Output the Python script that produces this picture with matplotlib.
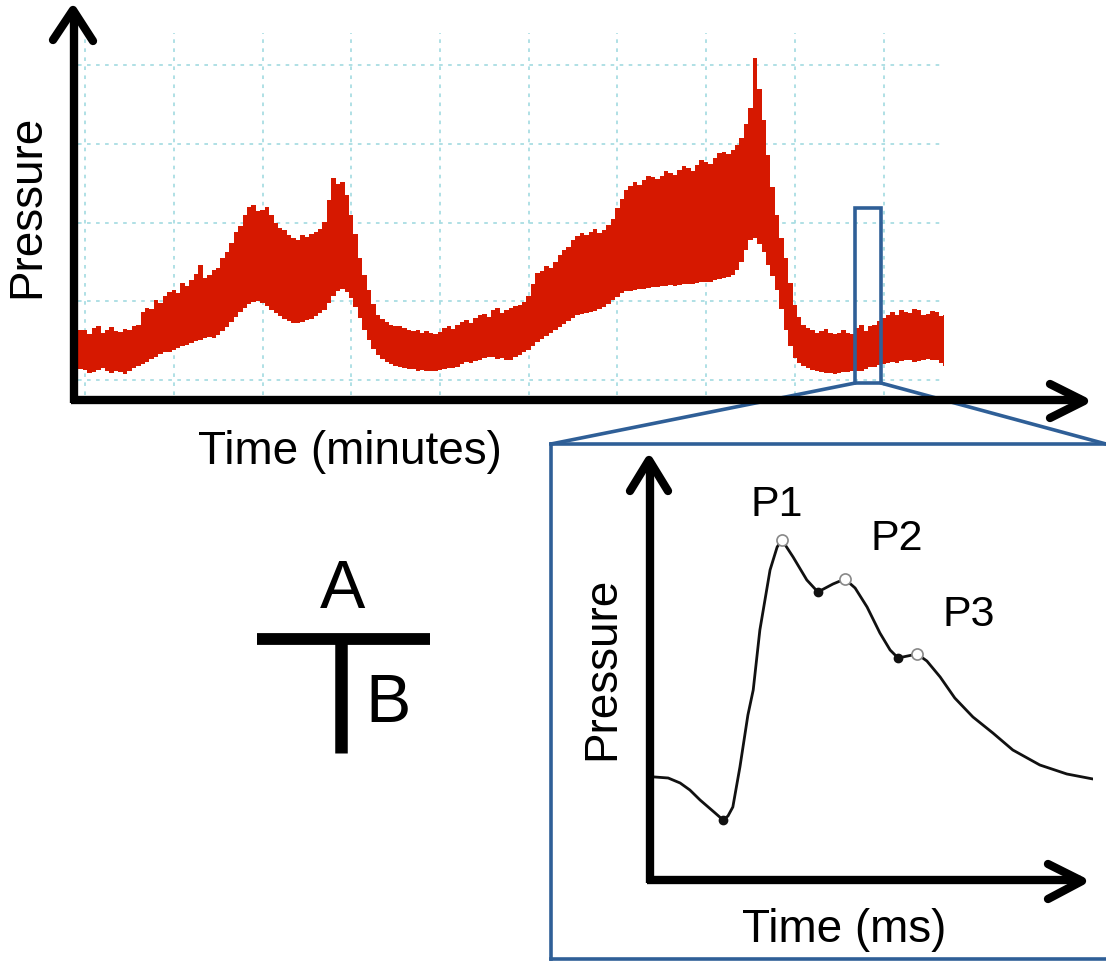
import numpy as np
import matplotlib
matplotlib.use('Agg')
import matplotlib.pyplot as plt
from matplotlib.patches import Rectangle, ConnectionPatch

plt.rcParams['font.family'] = ['Liberation Sans', 'DejaVu Sans']

# long recording: upper / lower edge of the pressure trace, sampled every half minute from -1 min
upper = [6.0, 6.4, 6.3, 5.9, 6.6, 6.9, 6.0, 6.3, 6.7, 6.2, 6.1, 6.5, 6.3, 6.8, 7.0, 8.6, 9.1, 9.0, 10.2, 9.8,
         10.7, 11.2, 11.4, 11.0, 12.3, 11.9, 12.7, 13.4, 14.6, 13.0, 13.3, 14.0, 14.2, 15.5, 16.3, 17.4, 18.8, 19.6, 21.0, 22.0,
         22.2, 21.5, 21.6, 22.0, 21.0, 20.0, 19.3, 19.0, 18.4, 18.0, 17.8, 18.4, 18.1, 18.6, 18.8, 19.2, 20.1, 22.8, 25.7, 24.9,
         25.1, 23.5, 21.0, 18.5, 15.5, 13.3, 11.4, 9.6, 8.3, 7.7, 7.4, 7.0, 6.9, 6.8, 6.6, 6.3, 6.2, 6.4, 6.0, 6.2,
         6.0, 5.8, 6.1, 6.6, 6.9, 6.5, 7.0, 7.4, 7.6, 7.3, 7.9, 8.2, 8.4, 8.0, 8.9, 9.1, 8.5, 8.9, 9.1, 9.4,
         9.5, 9.9, 10.7, 12.2, 13.6, 13.9, 14.5, 14.2, 15.0, 15.9, 16.5, 16.9, 17.8, 18.3, 18.7, 18.4, 18.8, 19.2, 18.7, 19.1,
         19.7, 20.5, 21.8, 23.0, 24.1, 24.6, 25.1, 24.8, 25.4, 25.9, 25.8, 25.5, 25.9, 26.5, 26.3, 26.0, 26.7, 27.2, 26.9, 26.6,
         27.3, 27.9, 27.7, 27.4, 28.2, 28.8, 29.0, 28.7, 29.2, 29.8, 30.7, 32.5, 34.5, 40.9, 37.0, 33.0, 28.6, 24.5, 21.0, 18.0,
         15.5, 12.3, 9.5, 8.0, 7.0, 6.6, 6.3, 6.0, 6.2, 6.5, 6.0, 5.8, 6.0, 6.3, 6.0, 5.9, 6.6, 7.0, 6.2, 6.8,
         7.0, 7.5, 7.9, 8.3, 8.6, 8.3, 8.9, 8.6, 8.5, 9.0, 8.9, 8.2, 8.4, 8.8, 8.6, 8.1, 8.3]
lower = [1.1, 1.4, 1.3, 0.9, 1.0, 1.3, 1.5, 1.1, 0.9, 1.2, 1.0, 0.8, 1.1, 1.5, 1.8, 2.0, 2.3, 2.7, 2.9, 3.3,
         3.6, 3.5, 3.8, 4.1, 4.3, 4.4, 4.7, 4.9, 5.1, 5.3, 5.5, 5.4, 5.7, 6.2, 6.7, 7.4, 8.0, 8.6, 9.1, 9.6,
         9.9, 10.0, 9.8, 9.4, 8.9, 8.5, 8.1, 7.7, 7.5, 7.2, 7.2, 7.4, 7.6, 7.8, 8.1, 8.5, 8.9, 9.8, 10.7, 11.3,
         11.6, 11.2, 10.4, 9.3, 7.9, 6.4, 5.1, 4.0, 3.2, 2.7, 2.3, 2.0, 1.8, 1.6, 1.5, 1.4, 1.4, 1.2, 1.3, 1.1,
         1.1, 1.2, 1.3, 1.4, 1.5, 1.5, 1.7, 2.0, 2.3, 2.2, 2.4, 2.6, 2.8, 2.9, 2.9, 2.7, 2.8, 2.6, 2.5, 2.9,
         3.2, 3.5, 3.8, 4.3, 4.8, 5.2, 5.6, 6.0, 6.3, 6.7, 7.1, 7.5, 7.9, 8.2, 8.4, 8.5, 8.6, 8.8, 9.0, 9.3,
         9.7, 10.1, 10.5, 11.0, 11.3, 11.3, 11.4, 11.5, 11.6, 11.7, 11.8, 11.8, 11.9, 12.0, 12.1, 12.0, 12.1, 12.2, 12.2, 12.2,
         12.3, 12.4, 12.4, 12.5, 12.7, 12.8, 13.0, 13.1, 13.3, 14.0, 15.0, 16.5, 17.8, 18.0, 17.3, 16.3, 14.6, 13.2, 11.4, 9.0,
         6.3, 4.3, 2.8, 2.2, 1.8, 1.5, 1.3, 1.1, 1.0, 0.9, 0.9, 0.8, 0.9, 1.0, 1.0, 1.1, 1.1, 1.2, 1.4, 1.6,
         1.7, 1.9, 2.0, 2.2, 2.3, 2.2, 2.4, 2.6, 2.5, 2.3, 2.4, 2.6, 2.7, 2.5, 2.5, 2.1, 1.8]
minutes = -1 + 0.5 * np.arange(len(upper))

# one pulse taken from the recording
pulse_ms = [1.1, 4.1, 6.8, 9.0, 11.3, 14.7, 16.5, 17.6, 18.7, 20.3, 22.1, 23.3, 24.8, 27.1, 28.7, 29.8,
            32.3, 35.4, 37.9, 41.3, 44.0, 46.3, 49.0, 51.9, 54.2, 56.0, 60.3, 62.5, 65.5,
            68.8, 71.6, 72.9, 77.4, 81.9, 88.0, 94.1, 100.0]
pulse_p = [5.15, 5.1, 4.85, 4.5, 4.0, 3.35, 3.0, 3.2, 3.65, 5.65, 8.25, 9.5, 12.5, 15.5, 16.65, 17.0,
           16.15, 15.0, 14.4, 14.8, 15.05, 14.6, 13.65, 12.35, 11.5, 11.1, 11.3, 10.95,
           10.15, 9.1, 8.45, 8.15, 7.35, 6.5, 5.75, 5.3, 5.05]
peak_names = ['P1', 'P2', 'P3']
peak_ms = [29.8, 44.0, 60.3]
peak_p = [17.0, 15.05, 11.3]
notch_ms = [16.5, 37.9, 56.0]
notch_p = [3.0, 14.4, 11.1]

W, H = 1106, 961
fig = plt.figure(figsize=(W / 100, H / 100), dpi=100)

def box(x0, y0, x1, y1):
    # pixel box (top-left origin) -> figure fraction
    return [x0 / W, 1 - y1 / H, (x1 - x0) / W, (y1 - y0) / H]

# top panel
ax = fig.add_axes(box(78, 33, 943, 395))
ax.fill_between(minutes, lower, upper, step='mid', color='#d61800', lw=0)
ax.set_xlim(-0.8, 96.7)
ax.set_ylim(-1.9, 44.06)
ax.set_xticks(np.arange(0, 100, 10))
ax.set_yticks(np.arange(0, 50, 10))
ax.grid(True, color='#a9dde3', linestyle=(0, (2, 3)), linewidth=1.3)
ax.set_axisbelow(True)
ax.tick_params(length=0, labelbottom=False, labelleft=False)
for s in ax.spines.values():
    s.set_visible(False)

zoom_t0, zoom_t1 = 86.8, 89.7
zoom_p0, zoom_p1 = -0.38, 21.8
ax.add_patch(Rectangle((zoom_t0, zoom_p0), zoom_t1 - zoom_t0, zoom_p1 - zoom_p0,
                       fill=False, ec='#2f5f97', lw=2.6, clip_on=False, zorder=5))

# inset: single pulse
ax2 = fig.add_axes(box(650, 460, 1093, 880))
ax2.plot(pulse_ms, pulse_p, color='#111111', lw=2.0, solid_joinstyle='round')
ax2.plot(notch_ms, notch_p, 'o', ms=6, color='#111111')
ax2.plot(peak_ms, peak_p, 'o', ms=8, mfc='white', mec='#888888', mew=1.2)
label_off = [(-4, 25), (37, 29), (37, 28)]
for name, t, p, off in zip(peak_names, peak_ms, peak_p, label_off):
    ax2.annotate(name, (t, p), xytext=off, textcoords='offset points',
                 ha='center', va='center', fontsize=31)
ax2.set_xlim(0, 100)
ax2.set_ylim(0, 21)
ax2.axis('off')

# overlay in pixel units for arrows, box and labels
ov = fig.add_axes([0, 0, 1, 1], zorder=10)
ov.set_xlim(0, W)
ov.set_ylim(H, 0)
ov.axis('off')
ov.patch.set_alpha(0)

blue = '#2f5f97'
shaft = dict(color='black', lw=6, solid_capstyle='butt')
head = dict(color='black', lw=6, solid_capstyle='round', solid_joinstyle='round')
# top axes
ov.plot([74, 74], [403, 12], **shaft)
ov.plot([53, 73, 93], [40, 10, 41], **head)
ov.plot([71, 1082], [400, 400], **shaft)
ov.plot([1050, 1084, 1050], [384, 401, 418], **head)
# inset axes
ov.plot([650, 650], [883, 462], **shaft)
ov.plot([630, 649, 668], [491, 460, 491], **head)
ov.plot([647, 1081], [880, 880], **shaft)
ov.plot([1048, 1082, 1048], [864, 881, 899], **head)

# inset frame and zoom lines
ov.plot([551, 1110], [444, 444], color=blue, lw=2.6)
ov.plot([551, 551], [444, 959], color=blue, lw=2.6)
ov.plot([551, 1110], [959, 959], color=blue, lw=2.6)
for t, xb in [(zoom_t0, 551), (zoom_t1, 1106)]:
    ov.add_artist(ConnectionPatch((t, zoom_p0), (xb, 444), coordsA=ax.transData,
                                  coordsB=ov.transData, color=blue, lw=2.6))

# T symbol with A / B
ov.plot([257, 430], [639, 639], color='black', lw=8.5, solid_capstyle='butt')
ov.plot([341, 341], [639, 753], color='black', lw=9, solid_capstyle='butt')
ov.text(343, 590, 'A', fontsize=49, ha='center', va='center')
ov.text(388, 704, 'B', fontsize=49, ha='center', va='center')

ov.text(27, 206, 'Pressure', fontsize=33, rotation=90, ha='center', va='center')
ov.text(350, 452, 'Time (minutes)', fontsize=33, ha='center', va='center')
ov.text(602, 668, 'Pressure', fontsize=33, rotation=90, ha='center', va='center')
ov.text(844, 930, 'Time (ms)', fontsize=33, ha='center', va='center')

fig.savefig('out.png', dpi=100)
